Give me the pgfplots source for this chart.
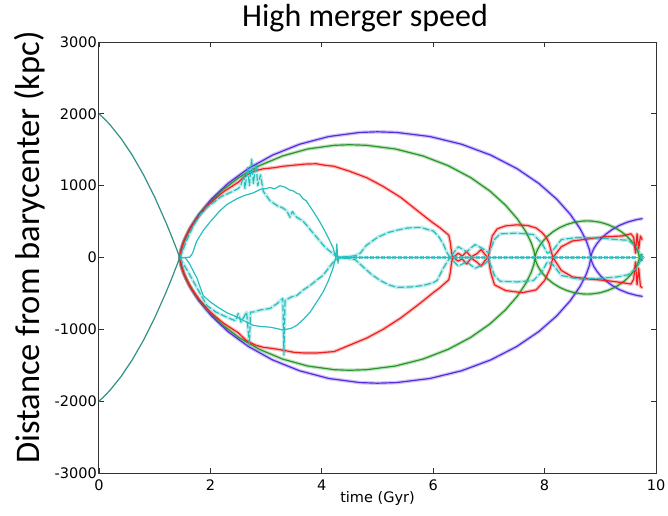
\documentclass[border=0pt]{standalone}
\usepackage{pgfplots}
\pgfplotsset{compat=1.18}
\usepackage{pgfplotstable}
\usepackage{fontspec}
\setmainfont{DejaVu Sans}
\newfontfamily\carlito{Carlito}
\definecolor{cBlue}{RGB}{85,45,225}
\definecolor{cGreen}{RGB}{40,150,40}
\definecolor{cRed}{RGB}{240,30,30}
\definecolor{cCyan}{RGB}{40,190,190}
\definecolor{cTeal}{RGB}{50,145,135}
\begin{document}
\pgfplotstableread{
t d
0 2000
0.1 1928
0.2 1846
0.4 1653
0.6 1421
0.8 1150
1.0 840
1.2 491
1.3 302
1.38 144
1.45 0
}\descU
\pgfplotstableread{
t d
0 -2000
0.1 -1928
0.2 -1846
0.4 -1653
0.6 -1421
0.8 -1150
1.0 -840
1.2 -491
1.3 -302
1.38 -144
1.45 0
}\descL
\pgfplotstableread{
t d
1.45 0
1.473 107
1.527 235
1.629 402
1.790 599
2.018 813
2.315 1031
2.683 1239
3.114 1425
3.598 1576
4.126 1684
4.681 1741
5.0 1750
5.345 1741
5.943 1684
6.512 1576
7.035 1425
7.500 1239
7.896 1031
8.217 813
8.463 599
8.637 402
8.747 235
8.805 107
8.83 0
8.837 34
8.854 74
8.885 126
8.935 188
9.006 256
9.098 324
9.212 389
9.345 448
9.496 495
9.659 529
9.75 540
}\blueU
\pgfplotstableread{
t d
1.45 0
1.473 -107
1.527 -235
1.629 -402
1.790 -599
2.018 -813
2.315 -1031
2.683 -1239
3.114 -1425
3.598 -1576
4.126 -1684
4.681 -1741
5.0 -1750
5.345 -1741
5.943 -1684
6.512 -1576
7.035 -1425
7.500 -1239
7.896 -1031
8.217 -813
8.463 -599
8.637 -402
8.747 -235
8.805 -107
8.83 0
8.837 -34
8.854 -74
8.885 -126
8.935 -188
9.006 -256
9.098 -324
9.212 -389
9.345 -448
9.496 -495
9.659 -529
9.75 -540
}\blueL
\pgfplotstableread{
t d
1.45 0
1.470 96
1.516 211
1.604 361
1.742 537
1.938 729
2.194 925
2.509 1112
2.879 1278
3.296 1414
3.749 1511
4.226 1562
4.5 1570
4.800 1562
5.320 1511
5.815 1414
6.270 1278
6.674 1112
7.018 925
7.297 729
7.511 537
7.662 361
7.757 211
7.808 96
7.83 0
7.836 31
7.850 68
7.877 117
7.920 175
7.980 237
8.058 300
8.155 361
8.268 415
8.396 459
8.535 491
8.681 507
8.765 510
8.849 507
8.995 491
9.134 459
9.262 415
9.375 361
9.472 300
9.550 237
9.610 175
9.653 117
9.680 68
9.694 31
9.70 0
9.75 40
}\greenU
\pgfplotstableread{
t d
1.45 0
1.470 -96
1.516 -211
1.604 -361
1.742 -537
1.938 -729
2.194 -925
2.509 -1112
2.879 -1278
3.296 -1414
3.749 -1511
4.226 -1562
4.5 -1570
4.800 -1562
5.320 -1511
5.815 -1414
6.270 -1278
6.674 -1112
7.018 -925
7.297 -729
7.511 -537
7.662 -361
7.757 -211
7.808 -96
7.83 0
7.836 -31
7.850 -68
7.877 -117
7.920 -175
7.980 -237
8.058 -300
8.155 -361
8.268 -415
8.396 -459
8.535 -491
8.681 -507
8.765 -510
8.849 -507
8.995 -491
9.134 -459
9.262 -415
9.375 -361
9.472 -300
9.550 -237
9.610 -175
9.653 -117
9.680 -68
9.694 -31
9.70 0
9.75 -40
}\greenL
\pgfplotstableread{
t d
1.45 0
1.465 79
1.499 173
1.563 296
1.666 442
1.81 599
1.999 760
2.231 913
2.504 1050
2.65 1150
2.812 1210
2.95 1235
3.146 1250
3.3 1270
3.5 1285
3.7 1300
3.9 1305
4.05 1285
4.22 1270
4.5 1200
4.81 1110
5.1 990
5.42 835
5.76 625
6.0 480
6.12 415
6.28 310
6.31 200
6.33 60
6.36 0
6.45 60
6.52 20
6.6 80
6.68 10
6.78 50
6.86 110
6.93 40
6.99 0
7.02 150
7.06 300
7.15 400
7.3 440
7.5 455
7.7 445
7.85 410
7.95 350
8.03 280
8.08 200
8.12 80
8.15 0
8.3 150
8.5 230
8.8 260
9.1 290
9.4 300
9.55 330
9.6 280
9.63 60
9.66 330
9.69 120
9.72 300
9.75 250
}\redU
\pgfplotstableread{
t d
1.45 0
1.465 -79
1.499 -173
1.563 -296
1.666 -442
1.81 -599
1.999 -760
2.231 -913
2.504 -1050
2.65 -1160
2.812 -1220
2.95 -1250
3.146 -1270
3.3 -1290
3.5 -1320
3.7 -1330
3.9 -1330
4.05 -1320
4.22 -1310
4.5 -1220
4.81 -1120
5.1 -1000
5.42 -840
5.76 -640
6.0 -490
6.12 -420
6.28 -310
6.31 -200
6.33 -60
6.36 0
6.45 -50
6.52 -20
6.6 -90
6.68 -10
6.78 -60
6.86 -120
6.93 -40
6.99 0
7.03 -200
7.1 -380
7.3 -460
7.6 -490
7.85 -450
8.0 -320
8.1 -150
8.15 0
8.3 -180
8.5 -270
8.8 -300
9.1 -320
9.4 -350
9.55 -370
9.6 -300
9.63 -60
9.66 -380
9.69 -150
9.72 -400
9.75 -420
}\redL
\pgfplotstableread{
t d
1.45 0
1.55 0
1.63 5
1.68 60
1.75 220
1.87 375
2.0 500
2.17 650
2.3 740
2.48 820
2.6 860
2.77 900
2.9 950
3.0 960
3.07 975
3.15 955
3.25 1000
3.35 975
3.42 940
3.48 930
3.55 895
3.6 880
3.66 820
3.72 790
3.78 720
3.84 650
3.93 540
4.02 420
4.1 300
4.2 140
4.25 0
4.27 190
4.29 -80
4.31 0
}\cyanSU
\pgfplotstableread{
t d
1.45 0
1.55 -5
1.62 -80
1.7 -200
1.76 -290
1.87 -530
2.0 -620
2.17 -710
2.3 -770
2.48 -830
2.6 -880
2.77 -945
2.9 -960
3.07 -970
3.2 -990
3.3 -1010
3.45 -985
3.55 -945
3.67 -860
3.79 -760
3.9 -630
4.02 -485
4.12 -320
4.2 -150
4.25 0
}\cyanSL
\pgfplotstableread{
t d
1.45 0
1.5 90
1.58 250
1.7 450
1.82 600
1.94 700
2.2 850
2.4 920
2.5 960
2.55 1010
2.6 1150
2.62 960
2.67 1250
2.7 1000
2.74 1370
2.77 1030
2.82 1300
2.85 1000
2.9 1150
2.95 920
3.07 790
3.2 720
3.3 690
3.37 650
3.43 560
3.47 640
3.55 560
3.66 510
3.75 430
3.8 380
3.91 280
4.05 150
4.2 50
4.3 0
4.45 10
4.6 25
4.69 60
4.8 170
5.0 280
5.2 350
5.35 380
5.53 410
5.78 420
5.9 390
6.0 370
6.1 290
6.18 190
6.24 80
6.3 0
6.45 150
6.6 80
6.75 180
6.9 120
7.0 60
7.1 250
7.2 330
7.5 340
7.8 320
7.95 200
8.05 60
8.15 100
8.3 250
8.6 280
9.0 270
9.3 250
9.5 240
9.65 150
9.75 0
}\cyanDU
\pgfplotstableread{
t d
1.45 0
1.5 -70
1.6 -200
1.8 -480
1.94 -670
2.1 -760
2.35 -850
2.45 -880
2.5 -780
2.55 -900
2.65 -760
2.7 -1220
2.72 -760
2.77 -760
2.9 -730
3.07 -710
3.2 -640
3.3 -570
3.32 -1360
3.34 -600
3.45 -550
3.55 -530
3.67 -450
3.79 -390
3.9 -320
4.02 -250
4.2 -70
4.3 0
4.45 -10
4.6 -30
4.74 -130
4.9 -240
5.05 -320
5.2 -380
5.35 -415
5.6 -410
5.82 -390
6.0 -350
6.07 -320
6.18 -150
6.3 0
6.45 -120
6.6 -60
6.75 -150
6.9 -100
7.0 -40
7.1 -250
7.2 -330
7.5 -340
7.8 -320
7.95 -200
8.05 -60
8.15 -100
8.3 -250
8.6 -300
9.0 -290
9.3 -270
9.5 -240
9.65 -150
9.75 0
}\cyanDL
\begin{tikzpicture}
\begin{axis}[
  scale only axis, width=557pt, height=431pt,
  xmin=0, xmax=10, ymin=-3000, ymax=3000,
  xtick={0,2,4,6,8,10}, xticklabels={0,2,4,6,8,10},
  ytick={-3000,-2000,-1000,0,1000,2000,3000},
  yticklabels={-3000,-2000,-1000,0,1000,2000,3000},
  tick align=inside, major tick length=5pt, xtick pos=both, ytick pos=both,
  axis line style={black!80, line width=1pt},
  tick style={black!80, line width=0.8pt},
  ticklabel style={font=\fontsize{14.5}{16}\selectfont},
  xticklabel style={anchor=base, yshift=-17pt, inner sep=0pt},
  yticklabel style={anchor=east, xshift=-2pt, inner sep=0pt},
  title={High merger speed},
  title style={at={(axis description cs:0.4776,1)}, anchor=base, yshift=10pt, inner sep=0pt, font=\carlito\fontsize{32}{36}\selectfont},
  ylabel={Distance from barycenter (kpc)},
  ylabel style={at={(axis description cs:-0.106,0.523)}, anchor=base, inner sep=0pt, font=\carlito\fontsize{34.5}{38}\selectfont},
  xlabel={time (Gyr)},
  xlabel style={at={(axis description cs:0.5,0)}, anchor=base, yshift=-29pt, inner sep=0pt, font=\fontsize{14.5}{16}\selectfont},
  every axis plot/.append style={line join=round, line cap=round},
  halo/.style={line width=3.6pt, opacity=0.28},
  main/.style={line width=1.2pt},
]
% halos
\addplot[halo, color=cBlue] table {\blueU};
\addplot[halo, color=cBlue] table {\blueL};
\addplot[halo, color=cGreen] table {\greenU};
\addplot[halo, color=cGreen] table {\greenL};
\addplot[halo, color=cRed] table {\redU};
\addplot[halo, color=cRed] table {\redL};
\addplot[halo, color=cCyan] table {\cyanDU};
\addplot[halo, color=cCyan] table {\cyanDL};
% main lines
\addplot[main, color=cBlue] table {\blueU};
\addplot[main, color=cBlue] table {\blueL};
\addplot[main, color=cGreen] table {\greenU};
\addplot[main, color=cGreen] table {\greenL};
\addplot[main, color=cRed] table {\redU};
\addplot[main, color=cRed] table {\redL};
\addplot[main, color=cCyan, dash pattern=on 6pt off 3pt] table {\cyanDU};
\addplot[main, color=cCyan, dash pattern=on 6pt off 3pt] table {\cyanDL};
\addplot[main, color=cCyan] table {\cyanSU};
\addplot[main, color=cCyan] table {\cyanSL};
\addplot[line width=1pt, color=cCyan, mark=o, mark size=1.3pt, mark options={solid, xscale=1.7, line width=0.6pt}] coordinates {
(4.31,0)(4.4,0)(4.5,0)(4.6,0)(4.7,0)(4.8,0)(4.9,0)(5.0,0)(5.1,0)(5.2,0)(5.3,0)(5.4,0)(5.5,0)(5.6,0)(5.7,0)(5.8,0)(5.9,0)(6.0,0)(6.1,0)(6.2,0)(6.3,0)(6.4,0)(6.5,0)(6.6,0)(6.7,0)(6.8,0)(6.9,0)(7.0,0)(7.1,0)(7.2,0)(7.3,0)(7.4,0)(7.5,0)(7.6,0)(7.7,0)(7.8,0)(7.9,0)(8.0,0)(8.1,0)(8.2,0)(8.3,0)(8.4,0)(8.5,0)(8.6,0)(8.7,0)(8.8,0)(8.9,0)(9.0,0)(9.1,0)(9.2,0)(9.3,0)(9.4,0)(9.5,0)(9.6,0)(9.75,0)};
\addplot[main, color=cTeal] table {\descU};
\addplot[main, color=cTeal] table {\descL};
\end{axis}
\path ([shift={(-99pt,-42pt)}]current axis.south west) rectangle ++(668pt,515pt);
\end{tikzpicture}
\end{document}
